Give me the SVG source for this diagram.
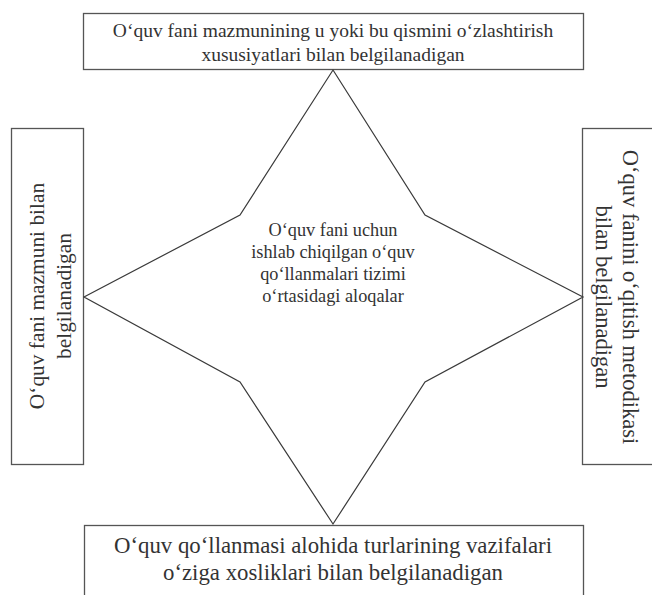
<svg xmlns="http://www.w3.org/2000/svg" width="652" height="595" viewBox="0 0 652 595">
<style>
.box{fill:#ffffff;stroke:#555;stroke-width:1.3}
.star{fill:#ffffff;stroke:#3a3a3a;stroke-width:1.2;stroke-linejoin:miter}
.t{font-family:"Liberation Serif","Times New Roman",serif;fill:#333;text-anchor:middle}
</style>
<rect width="652" height="595" fill="#ffffff"/>
<g id="node-top">
<rect class="box" x="83.5" y="13.5" width="500" height="56"/>
<text class="t" font-size="19.5" x="333" y="37">O‘quv fani mazmunining u yoki bu qismini o‘zlashtirish</text>
<text class="t" font-size="19.5" x="333" y="61">xususiyatlari bilan belgilanadigan</text>
</g>
<g id="node-left">
<rect class="box" x="11.5" y="128.5" width="72" height="336"/>
<text class="t" font-size="21.4" transform="translate(44 296) rotate(-90)">O‘quv fani mazmuni bilan</text>
<text class="t" font-size="21.4" transform="translate(70.5 296) rotate(-90)">belgilanadigan</text>
</g>
<g id="node-right">
<rect class="box" x="582.5" y="128.5" width="80" height="336"/>
<text class="t" font-size="22.5" transform="translate(623 297) rotate(90)">O‘quv fanini o‘qitish metodikasi</text>
<text class="t" font-size="22.5" transform="translate(596 297) rotate(90)">bilan belgilanadigan</text>
</g>
<g id="node-bottom">
<rect class="box" x="84.5" y="525.5" width="499" height="80"/>
<text class="t" font-size="22.8" x="333" y="553">O‘quv qo‘llanmasi alohida turlarining vazifalari</text>
<text class="t" font-size="22.8" x="333" y="580">o‘ziga xosliklari bilan belgilanadigan</text>
</g>
<g id="node-center">
<polygon class="star" points="333,70 425,215 583,297 425,382 333,524 240,382 84,297 240,215"/>
<text class="t" font-size="18.3" x="333" y="236">O‘quv fani uchun</text>
<text class="t" font-size="18.3" x="333" y="258">ishlab chiqilgan o‘quv</text>
<text class="t" font-size="18.3" x="333" y="280">qo‘llanmalari tizimi</text>
<text class="t" font-size="18.3" x="333" y="302">o‘rtasidagi aloqalar</text>
</g>
<g id="connectors"></g>
</svg>
